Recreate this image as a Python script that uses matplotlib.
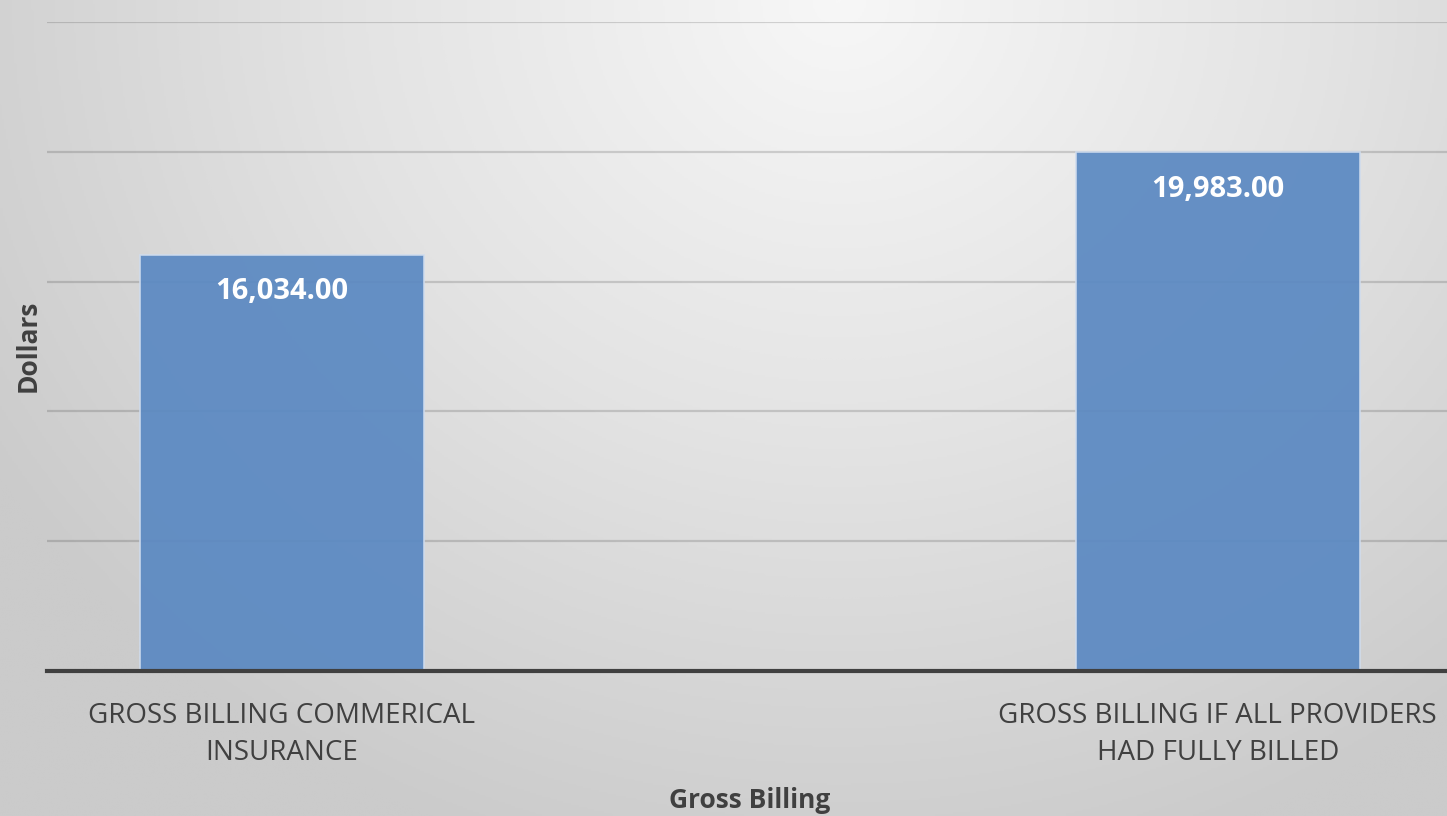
import numpy as np
import matplotlib
matplotlib.use("Agg")
import matplotlib.pyplot as plt
from matplotlib.colors import LinearSegmentedColormap

categories = ["GROSS BILLING COMMERICAL\nINSURANCE",
              "GROSS BILLING IF ALL PROVIDERS\nHAD FULLY BILLED"]
values = [16034.00, 19983.00]
value_labels = ["16,034.00", "19,983.00"]

plt.rcParams['font.family'] = ['Open Sans', 'DejaVu Sans']

W, H = 1447, 816
fig = plt.figure(figsize=(W / 100, H / 100), dpi=100)

# background radial gradient
bg = fig.add_axes([0, 0, 1, 1], zorder=-10)
yy, xx = np.mgrid[0:1:400j, 0:1:700j]
cx, cy = 0.58, 1.0
d = np.sqrt(((xx - cx) * 1.6) ** 2 + ((yy - cy) * 1.0) ** 2)
d = np.clip(d / 1.1, 0, 1)
cmap = LinearSegmentedColormap.from_list("bg", ["#f7f7f7", "#e3e3e3", "#cbcbcb"])
bg.imshow(d, cmap=cmap, origin="lower", extent=[0, 1, 0, 1], aspect="auto", vmin=0, vmax=1)
bg.axis("off")

ax = fig.add_axes([47 / W, 1 - 671 / H, 1 - 47 / W, (671 - 22) / H])
ax.patch.set_alpha(0)
x = np.arange(len(categories))
bars = ax.bar(x, values, width=0.303, color="#5b89c2", alpha=0.93,
              edgecolor="#cfdcee", linewidth=1.2, zorder=3)
ax.set_xlim(-0.251, 1.245)
ax.set_ylim(0, 25000)
ax.set_yticks([5000, 10000, 15000, 20000, 25000])
ax.yaxis.grid(True, color="#000000", alpha=0.15, linewidth=1.6)
ax.set_axisbelow(True)
ax.tick_params(axis="y", length=0, labelleft=False)
ax.tick_params(axis="x", length=0, pad=22)
ax.set_xticks(x)
ax.set_xticklabels(categories, fontsize=20, color="#404040", linespacing=1.45)
for s in ["top", "right", "left"]:
    ax.spines[s].set_visible(False)
ax.spines["bottom"].set_color("#404040")
ax.spines["bottom"].set_linewidth(3)
ax.spines["bottom"].set_zorder(4)

for b, lab in zip(bars, value_labels):
    ax.annotate(lab, (b.get_x() + b.get_width() / 2, b.get_height()),
                xytext=(0, -26.5), textcoords="offset points", ha="center", va="center",
                color="white", fontsize=21, fontweight="bold", zorder=5)

fig.text(28 / W, 1 - 346 / H, "Dollars", rotation=90, ha="center", va="center",
         fontsize=19, fontweight="bold", color="#404040")
fig.text(750 / W, 1 - 800 / H, "Gross Billing", ha="center", va="center",
         fontsize=19, fontweight="bold", color="#404040")

fig.savefig("out.png", dpi=100)
